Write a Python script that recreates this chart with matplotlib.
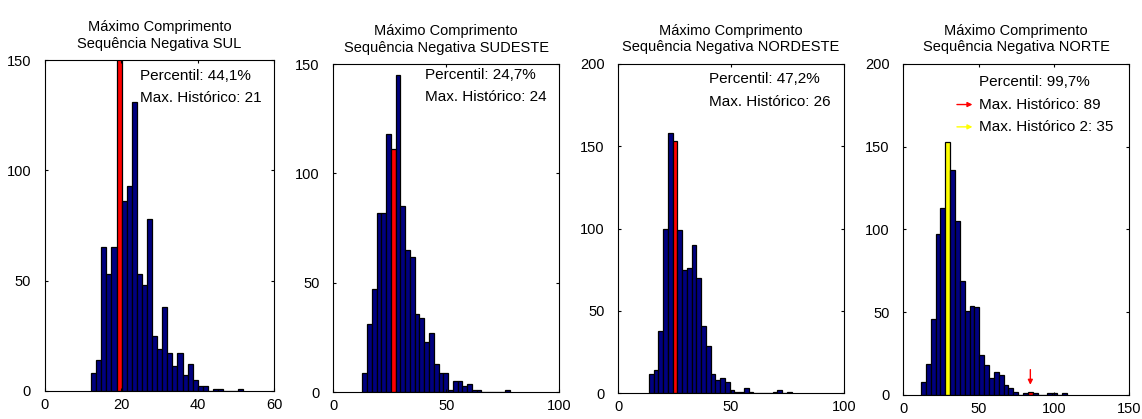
import numpy as np
import matplotlib.pyplot as plt

plt.rcParams['font.family'] = ['Liberation Sans', 'DejaVu Sans']

# histogram counts per region (bins of equal width starting at bin_start)
counts_sul = [8, 14, 65, 53, 65, 155, 86, 93, 131, 53,
              48, 78, 25, 19, 38, 17, 11, 17, 7, 12,
              5, 2, 2, 0, 1, 1, 0, 0, 0, 1]
counts_sudeste = [9, 31, 47, 82, 82, 118, 111, 145, 85, 65,
                  62, 36, 34, 23, 27, 13, 9, 9, 1, 5,
                  5, 3, 4, 1, 1, 0, 0, 0, 0, 0, 1]
counts_nordeste = [12, 14, 38, 100, 158, 153, 99, 75, 76, 90,
                   70, 41, 29, 12, 8, 9, 7, 2, 1, 1,
                   3, 1, 0, 0, 0, 0, 1, 2, 0, 1]
counts_norte = [8, 19, 46, 97, 113, 153, 136, 105, 69, 51,
                54, 53, 24, 18, 10, 14, 12, 6, 4, 2,
                0, 1, 2, 1, 0, 0, 1, 1, 0, 1]

bin_start = [12.1, 12.85, 13.5, 11.76]
bin_width = [1.33, 2.11, 2.11, 3.23]

regioes = ['SUL', 'SUDESTE', 'NORDESTE', 'NORTE']
percentis = ['44,1%', '24,7%', '47,2%', '99,7%']
max_hist = [21, 24, 26, 89]
max_hist2 = 35

# highlighted bins: {bin index: colour}
destaques = [{5: 'red'}, {6: 'red'}, {5: 'red'}, {5: 'yellow', 22: 'red'}]

xlims = [(0, 60), (0, 100), (0, 100), (0, 150)]
xticks = [[0, 20, 40, 60], [0, 50, 100], [0, 50, 100], [0, 50, 100, 150]]
ylims = [(0, 150), (0, 150), (0, 200), (0, 200)]
yticks = [[0, 50, 100, 150], [0, 50, 100, 150],
          [0, 50, 100, 150, 200], [0, 50, 100, 150, 200]]

# text anchor (x, y of first line, line step) in data units
texto_pos = [(25, 143, 10), (40.6, 145, 10), (40.3, 191, 14), (50.3, 189, 13.5)]

posicoes = [[0.0394, 0.0675, 0.2005, 0.789],
            [0.2919, 0.0637, 0.1976, 0.7835],
            [0.5414, 0.0613, 0.1976, 0.786],
            [0.7910, 0.0573, 0.1976, 0.790]]

all_counts = [counts_sul, counts_sudeste, counts_nordeste, counts_norte]

fig = plt.figure(figsize=(11.42, 4.19), dpi=100)

for i in range(4):
    ax = fig.add_axes(posicoes[i])
    counts = np.array(all_counts[i])
    centers = bin_start[i] + bin_width[i] * (np.arange(len(counts)) + 0.5)
    cores = ['#000080'] * len(counts)
    for k, c in destaques[i].items():
        cores[k] = c
    ax.bar(centers, counts, width=bin_width[i], color=cores,
           edgecolor='black', linewidth=0.9)

    ax.set_xlim(*xlims[i])
    ax.set_ylim(*ylims[i])
    ax.set_xticks(xticks[i])
    ax.set_yticks(yticks[i])
    ax.tick_params(direction='in', top=True, right=True, length=2.5,
                   width=0.8, labelsize=10.5)
    ax.tick_params(axis='y', pad=10)
    ax.tick_params(axis='x', pad=5)
    for s in ax.spines.values():
        s.set_linewidth(0.8)

    ax.set_title('Máximo Comprimento\nSequência Negativa ' + regioes[i],
                 fontsize=10.5, pad=9, linespacing=1.25)

    tx, ty, dy = texto_pos[i]
    ax.text(tx, ty, 'Percentil: ' + percentis[i], fontsize=11, va='center')
    ax.text(tx, ty - dy, 'Max. Histórico: %d' % max_hist[i],
            fontsize=11, va='center')
    if i == 3:
        ax.text(tx, ty - 2 * dy, 'Max. Histórico 2: %d' % max_hist2,
                fontsize=11, va='center')
        for j, cor in enumerate(['red', 'yellow']):
            yy = ty - (j + 1) * dy
            ax.annotate('', xy=(tx - 2.5, yy), xytext=(tx - 16.5, yy),
                        arrowprops=dict(arrowstyle='-|>', color=cor, lw=1,
                                        mutation_scale=7))
        # arrow pointing at the historical maximum bin
        xr = centers[22]
        ax.annotate('', xy=(xr, 4.5), xytext=(xr, 17),
                    arrowprops=dict(arrowstyle='-|>', color='red', lw=1,
                                    mutation_scale=7))

fig.savefig('out.png', dpi=100)
